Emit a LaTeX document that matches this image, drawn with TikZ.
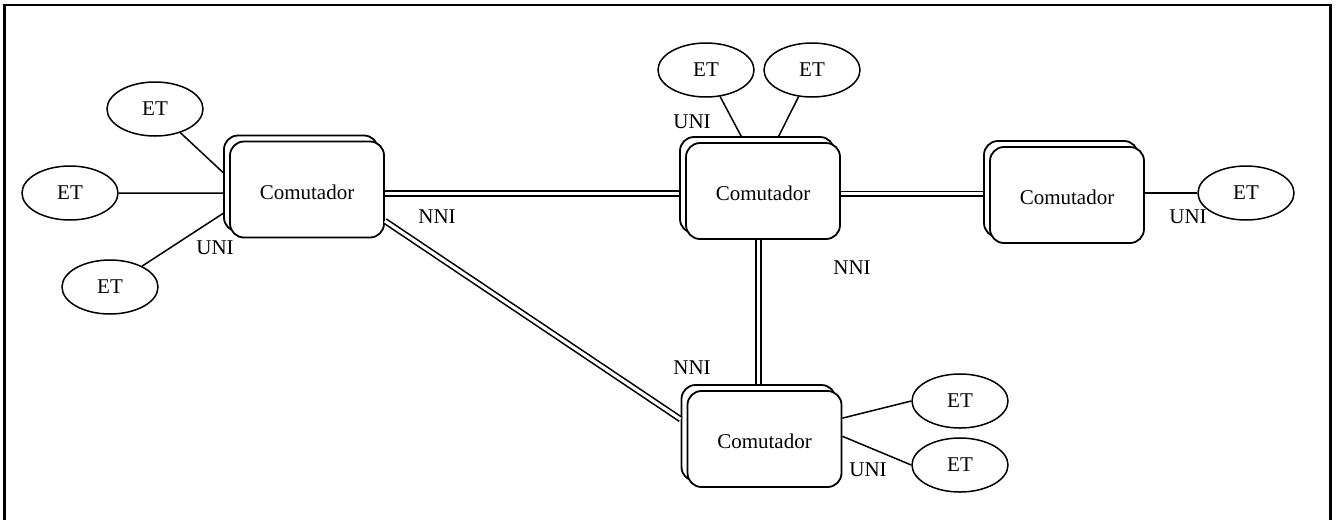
\documentclass[tikz,border=0pt]{standalone}
\usepackage{fontspec}
\setmainfont{Liberation Serif}
\usetikzlibrary{shapes.geometric}
\begin{document}
\begin{tikzpicture}[x=1pt,y=-1pt,
  every node/.style={font=\fontsize{21}{24}\selectfont},
  sw/.style={draw, line width=1.8pt, rounded corners=14pt, minimum width=154pt,
             minimum height=96pt, inner sep=0pt, fill=white},
  swtext/.style={anchor=center, inner sep=0pt, yshift=-2.5pt},
  term/.style={draw, ellipse, line width=1.5pt, minimum width=96pt,
               minimum height=54pt, inner sep=0pt},
  uni/.style={line width=1.5pt},
  nni/.style={draw=black, double=white, line width=1.6pt, double distance=3.2pt},
  lbl/.style={inner sep=0pt}]
\useasboundingbox (0,0) rectangle (1336,520);
% outer frame (open at the bottom)
\draw[line width=2.4pt] (4.5,520) -- (4.5,5) -- (1330.5,5) -- (1330.5,520);

% switches: a back copy and a front box
\node[sw] (s1b) at (301,183.5) {};
\node[sw] (s1f) at (307,189.5) {};
\node[sw] (s2b) at (757,185) {};
\node[sw] (s2f) at (763,191) {};
\node[sw] (s3b) at (1061,189) {};
\node[sw] (s3f) at (1067,195) {};
\node[sw] (s4b) at (758.5,433) {};
\node[sw] (s4f) at (764.5,439) {};
\node[swtext] (t1) at (s1f) {Comutador};
\node[swtext] (t2) at (s2f) {Comutador};
\node[swtext] (t3) at (s3f) {Comutador};
\node[swtext] (t4) at (s4f) {Comutador};

% end terminals
\node[term] (et1) at (155,109) {ET};
\node[term] (et2) at (70,193) {ET};
\node[term] (et3) at (110,287) {ET};
\node[term] (et4) at (706,70) {ET};
\node[term] (et5) at (812,70) {ET};
\node[term] (et6) at (1246,193) {ET};
\node[term] (et7) at (960,401) {ET};
\node[term] (et8) at (960,465) {ET};

% network-network trunks
\draw[nni] (s1f.-3) -- (s1f.-3 -| s2b.west);
\draw[nni] (s2f.-2) -- (s2f.-2 -| s3b.west);
\draw[nni] (s4b.north) -- (s4b.north |- s2f.south);
\draw[nni] (s1f.-22) -- (s4b.170);

% user-network access lines
\draw[uni] (et1) -- (s1b.172);
\draw[uni] (et2) -- (s1b.187);
\draw[uni] (et3) -- (s1b.201);
\draw[uni] (et4) -- (s2b.108);
\draw[uni] (et5) -- (s2b.66);
\draw[uni] (s3f.east |- et6.center) -- (et6);
\draw[uni] (s4f.15) -- (et7.west);
\draw[uni] (s4f.2) -- (et8.west);

% interface labels
\node[lbl] (u1) at (215,248) {UNI};
\node[lbl] (u2) at (692,122) {UNI};
\node[lbl] (u3) at (1188,217) {UNI};
\node[lbl] (u4) at (868,470) {UNI};
\node[lbl] (n1) at (437,217) {NNI};
\node[lbl] (n2) at (852,268) {NNI};
\node[lbl] (n3) at (692,368) {NNI};
\end{tikzpicture}
\end{document}
